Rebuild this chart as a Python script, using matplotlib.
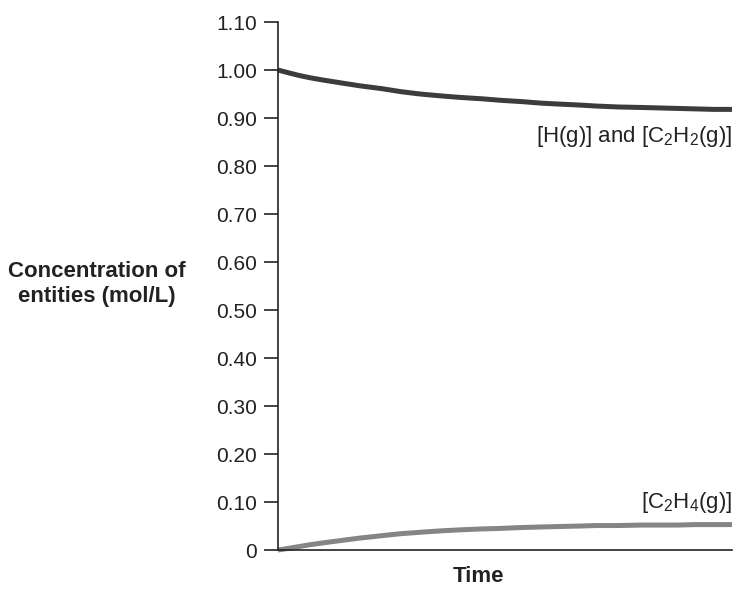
import matplotlib.pyplot as plt

plt.rcParams['font.family'] = ['Liberation Sans', 'DejaVu Sans']
plt.rcParams['mathtext.fontset'] = 'custom'
plt.rcParams['mathtext.rm'] = 'Liberation Sans'

# readings (time in arbitrary units, 0..10)
time = [0, 0.2, 0.45, 0.70, 1.0, 1.4, 1.81, 2.3, 2.7, 3.13, 3.6, 4.0, 4.5,
        4.89, 5.4, 5.8, 6.2, 6.65, 7.0, 7.5, 8.0, 8.41, 8.8, 9.2, 9.6, 10]
h_c2h2 = [1.000, 0.995, 0.989, 0.984, 0.979, 0.973, 0.967, 0.961, 0.955, 0.950,
          0.946, 0.943, 0.940, 0.937, 0.934, 0.931, 0.929, 0.927, 0.925, 0.923,
          0.922, 0.921, 0.920, 0.919, 0.918, 0.918]
c2h4 = [0.000, 0.003, 0.007, 0.011, 0.015, 0.020, 0.025, 0.030, 0.034, 0.037,
        0.040, 0.042, 0.044, 0.045, 0.047, 0.048, 0.049, 0.050, 0.051, 0.051,
        0.052, 0.052, 0.052, 0.053, 0.053, 0.053]

yticks = [0, 0.10, 0.20, 0.30, 0.40, 0.50, 0.60, 0.70, 0.80, 0.90, 1.00, 1.10]
ytick_labels = ['0', '0.10', '0.20', '0.30', '0.40', '0.50', '0.60', '0.70',
                '0.80', '0.90', '1.00', '1.10']

fig = plt.figure(figsize=(7.37, 5.92), dpi=100)
ax = fig.add_axes([0.3772, 0.0709, 0.616, 0.8919])

ax.plot(time, h_c2h2, color='#3c3c3c', lw=3.6, solid_capstyle='butt', clip_on=False)
ax.plot(time, c2h4, color='#858585', lw=3.6, solid_capstyle='butt', clip_on=False)

ax.set_xlim(0, 10)
ax.set_ylim(0, 1.10)
ax.set_yticks(yticks)
ax.set_yticklabels(ytick_labels)
ax.set_xticks([])

for s in ['top', 'right']:
    ax.spines[s].set_visible(False)
for s in ['left', 'bottom']:
    ax.spines[s].set_color('#222222')
    ax.spines[s].set_linewidth(1.2)

ax.tick_params(axis='y', length=10, width=1.2, color='#222222', labelsize=15,
               labelcolor='#222222', pad=5)

ax.text(10, 0.862, r'[H(g)] and [C$\mathregular{_2}$H$\mathregular{_2}$(g)]',
        ha='right', va='center', fontsize=16, color='#222222')
ax.text(10, 0.100, r'[C$\mathregular{_2}$H$\mathregular{_4}$(g)]',
        ha='right', va='center', fontsize=16, color='#222222')

fig.text(97 / 737, 1 - 284 / 592, 'Concentration of\nentities (mol/L)',
         ha='center', va='center', fontsize=16, fontweight='bold',
         color='#222222', linespacing=1.2)
fig.text(478 / 737, 1 - 577 / 592, 'Time', ha='center', va='center',
         fontsize=16, fontweight='bold', color='#222222')

plt.savefig('out.png', dpi=100, facecolor='white')
